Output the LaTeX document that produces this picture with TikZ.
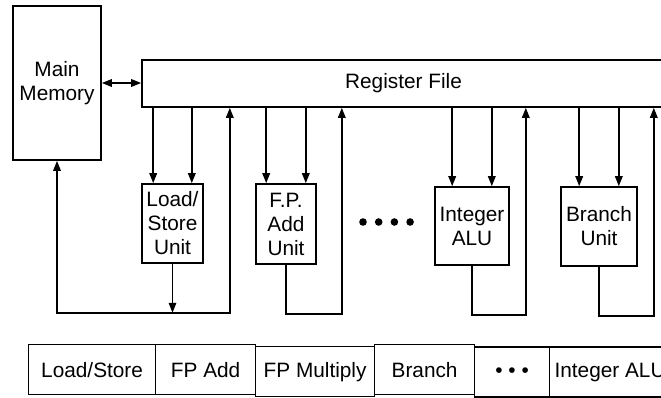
\documentclass[tikz,border=0pt]{standalone}
\usepackage{fontspec}
\setmainfont{Liberation Sans}
\usepackage{tikz}
\usetikzlibrary{positioning,matrix,arrows.meta}

\tikzset{
    unit/.style={draw, align=center, inner sep=1pt},
    arr/.style={-{Triangle[length=10pt,width=7.5pt]}},
    darr/.style={{Triangle[length=10pt,width=7.5pt]}-{Triangle[length=10pt,width=7.5pt]}},
}

\begin{document}
\begin{tikzpicture}[x=1pt, y=-1pt, line width=1.6pt, font=\fontsize{20.8}{24}\selectfont]
        \useasboundingbox (0,0) rectangle (661,398);
        \clip (0,0) rectangle (661,398);
        \node[unit, minimum width=88pt, minimum height=154pt] (mm) at (57,83) {Main\\Memory};
        \node[unit, minimum width=523pt, minimum height=47pt] (rf) at (403.5,83.5) {Register File};
        \node[unit, minimum width=61pt, minimum height=79pt] (ls) at (172.5,223.5) {Load/\\Store\\Unit};
        \node[unit, minimum width=60pt, minimum height=80pt] (fp) at (286,224) {F.P.\\Add\\Unit};
        \node[unit, minimum width=74pt, minimum height=78pt] (alu) at (472,226) {Integer\\ALU};
        \node[unit, minimum width=76pt, minimum height=79pt] (br) at (599,226.5) {Branch\\Unit};
        \foreach \i in {0,...,3}
            \fill (363+15.7*\i,222) circle (3.8pt);

        \draw[darr] (mm.east) -- (rf.west |- mm.east);

        % operands from the register file
        \foreach \u/\d in {ls/12, fp/11, alu/18, br/19} {
            \path ([xshift=\d pt]\u.north west) coordinate (\u-a)
                  ([xshift=-\d pt]\u.north east) coordinate (\u-b);
            \draw[arr] (\u-a |- rf.south) -- (\u-a);
            \draw[arr] (\u-b |- rf.south) -- (\u-b);
        }

        % results back
        \draw[arr] (ls.south) -- ++(0,49) coordinate (ls-j);
        \path ([xshift=26pt]ls.south east) coordinate (ls-r);
        \draw[arr] (ls-j) -| (mm.south);
        \draw[arr] (ls-j) -| (ls-r |- rf.south);
        \foreach \u/\g in {fp/25, alu/16, br/16} {
            \path ([xshift=\g pt]\u.south east) coordinate (\u-r);
            \draw[arr] (\u.south) -- ++(0,49) -| (\u-r |- rf.south);
        }

        \matrix (ex) [matrix of nodes, anchor=north west, inner sep=0pt,
            nodes={draw, minimum height=50pt, inner sep=3pt},
            column sep=-\pgflinewidth] at (27,343) {
                |[minimum width=127pt]| Load/Store & |[minimum width=100pt]| FP Add & |[minimum width=119pt]| FP Multiply & |[minimum width=100pt]| Branch & |[minimum width=75pt]| \textbullet\ \textbullet\ \textbullet & |[minimum width=121pt]| Integer ALU\\};
    \end{tikzpicture}
\end{document}
